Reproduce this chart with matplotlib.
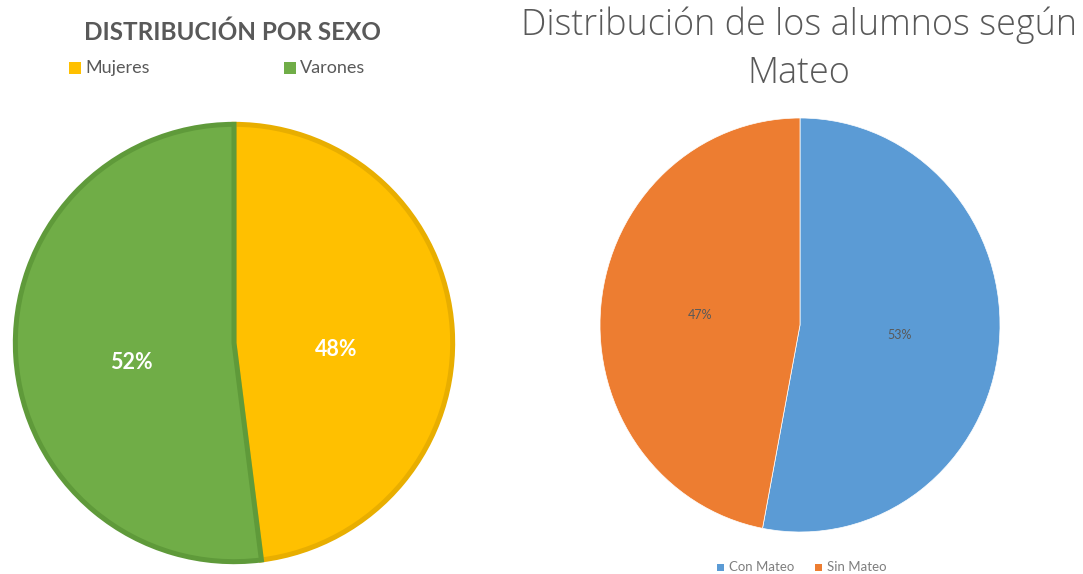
import matplotlib
matplotlib.use("Agg")
import matplotlib.pyplot as plt

# Data
sexo_labels = ["Mujeres", "Varones"]
sexo_values = [48, 52]
sexo_colors = ["#FFC000", "#70AD47"]
sexo_edges = ["#E8AE00", "#5F9A3A"]

mateo_labels = ["Con Mateo", "Sin Mateo"]
mateo_values = [53, 47]
mateo_colors = ["#5B9BD5", "#ED7D31"]

W, H = 1083, 574
fig = plt.figure(figsize=(W / 100, H / 100), dpi=100)
fig.patch.set_facecolor("white")

def px_axes(x0, y0, x1, y1):
    return fig.add_axes([x0 / W, 1 - y1 / H, (x1 - x0) / W, (y1 - y0) / H])

FONT = ["Lato", "DejaVu Sans"]

# Left pie
ax1 = px_axes(12, 121, 456, 565)
wedges, _, autotexts = ax1.pie(
    sexo_values, colors=sexo_colors, startangle=90, counterclock=False,
    autopct="%1.0f%%", pctdistance=0.47, radius=0.985,
    wedgeprops=dict(linewidth=3.6),
    textprops=dict(color="white", fontsize=15.5, fontweight="bold", family=FONT))
for w, ec in zip(wedges, sexo_edges):
    w.set_edgecolor(ec)
for t in autotexts:
    x, y = t.get_position()
    t.set_position((x, y - 0.06))
ax1.set_xlim(-1, 1)
ax1.set_ylim(-1, 1)
ax1.set_aspect("auto")
ax1.axis("off")

fig.text(232 / W, 1 - 32 / H, "DISTRIBUCIÓN POR SEXO", ha="center", va="center",
         fontsize=17.5, fontweight="bold", color="#595959", family=FONT)
# legend left
for (x, lab, col) in [(75, sexo_labels[0], sexo_colors[0]), (290, sexo_labels[1], sexo_colors[1])]:
    fig.patches.append(plt.Rectangle(((x - 6) / W, 1 - 74 / H), 12 / W, 12 / H,
                                     transform=fig.transFigure, facecolor=col, edgecolor="none"))
    fig.text((x + 10) / W, 1 - 68 / H, lab, ha="left", va="center",
             fontsize=13, color="#595959", family=FONT)

# Right pie
ax2 = px_axes(600, 118, 1000, 532)
wedges2, _, autotexts2 = ax2.pie(
    mateo_values, colors=mateo_colors, startangle=90, counterclock=False,
    autopct="%1.0f%%", pctdistance=0.5,
    wedgeprops=dict(linewidth=0.5, edgecolor="white"),
    textprops=dict(color="#595959", fontsize=9, family=FONT))
ax2.set_xlim(-1, 1)
ax2.set_ylim(-1, 1)
ax2.set_aspect("auto")
ax2.axis("off")

fig.text(799 / W, 1 - 49 / H, "Distribución de los alumnos según\nMateo", ha="center",
         va="center", fontsize=25.8, color="#595959", family=["Open Sans", "DejaVu Sans"],
         fontweight="light", linespacing=1.38)

for (x, lab, col) in [(721, mateo_labels[0], mateo_colors[0]), (819, mateo_labels[1], mateo_colors[1])]:
    fig.patches.append(plt.Rectangle(((x - 4) / W, 1 - 571 / H), 7 / W, 7 / H,
                                     transform=fig.transFigure, facecolor=col, edgecolor="none"))
    fig.text((x + 8) / W, 1 - 567 / H, lab, ha="left", va="center",
             fontsize=9.5, color="#7F7F7F", family=FONT)

fig.savefig("out.png", dpi=100, facecolor="white")
